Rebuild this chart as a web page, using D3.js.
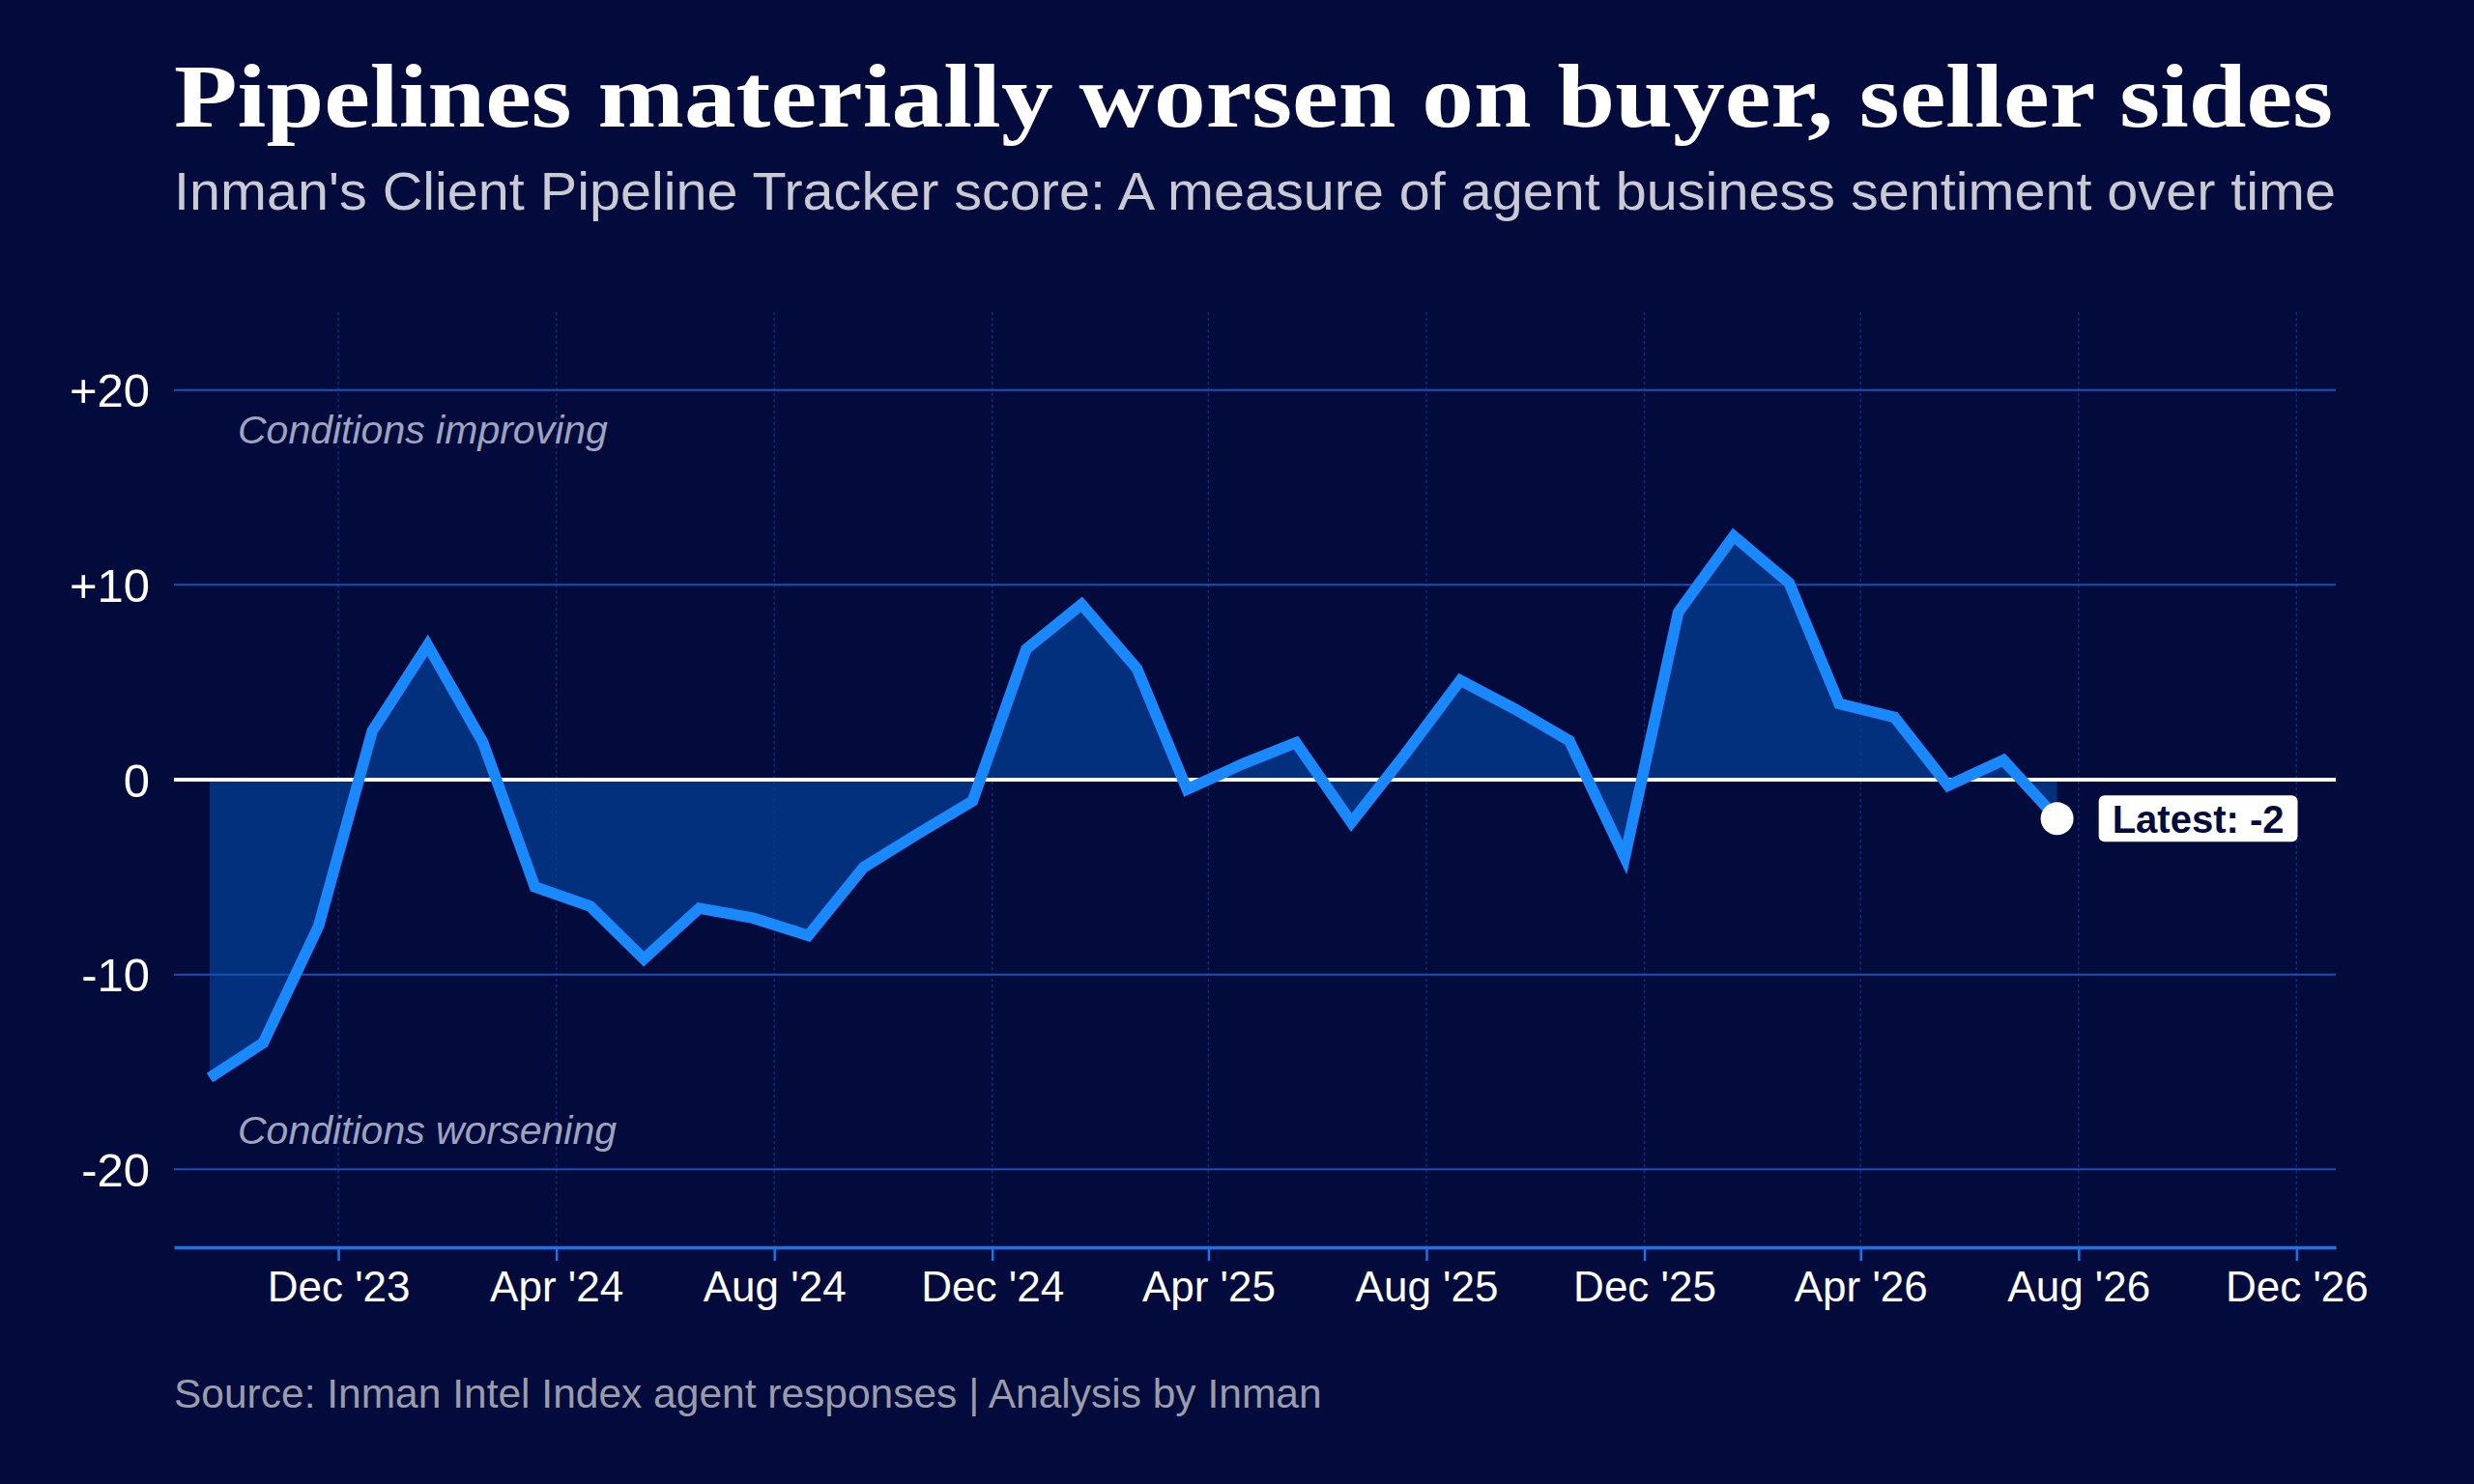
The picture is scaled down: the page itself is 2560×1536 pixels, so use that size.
<!DOCTYPE html>
<html>
<head>
<meta charset="utf-8">
<script src="https://cdn.jsdelivr.net/npm/d3@7"></script>
<style>
  html, body { margin: 0; padding: 0; background: #020b3c; }
  svg { display: block; }
</style>
</head>
<body>
<svg id="chart" width="2560" height="1536"></svg>
<script>
// ---- DATA ----
const dates = [
  "2023-09-20","2023-10-20","2023-11-20","2023-12-20",
  "2024-01-20","2024-02-20","2024-03-20","2024-04-20","2024-05-20","2024-06-20",
  "2024-07-20","2024-08-20","2024-09-20","2024-10-20","2024-11-20","2024-12-20",
  "2025-01-20","2025-02-20","2025-03-20","2025-04-20","2025-05-20","2025-06-20",
  "2025-07-20","2025-08-20","2025-09-20","2025-10-20","2025-11-20","2025-12-20",
  "2026-01-20","2026-02-20","2026-03-20","2026-04-20","2026-05-20","2026-06-20",
  "2026-07-20"
];
const scores = [
  -15.3, -13.5, -7.5, 2.5,
  6.9, 1.9, -5.5, -6.5, -9.2, -6.6,
  -7.1, -8.0, -4.5, -2.8, -1.1, 6.7,
  9.0, 5.7, -0.5, 0.8, 1.9, -2.2,
  1.3, 5.1, 3.6, 2.0, -4.0, 8.6,
  12.5, 10.1, 3.9, 3.2, -0.3, 1.0,
  -2.0
];
const yTicks = [-20, -10, 0, 10, 20];
const xTickDates = ["2023-12-01","2024-04-01","2024-08-01","2024-12-01","2025-04-01",
  "2025-08-01","2025-12-01","2026-04-01","2026-08-01","2026-12-01"];
const titleText = "Pipelines materially worsen on buyer, seller sides";
const subtitleText = "Inman's Client Pipeline Tracker score: A measure of agent business sentiment over time";
const sourceText = "Source: Inman Intel Index agent responses | Analysis by Inman";
const noteTop = "Conditions improving";
const noteBottom = "Conditions worsening";
const latestLabel = "Latest: -2";

// ---- SETUP ----
const parse = d3.utcParse("%Y-%m-%d");
const data = dates.map((d, i) => ({ date: parse(d), value: scores[i] }));

const svg = d3.select("#chart");
const W = 2560, H = 1536;
const pL = 180, pR = 2417, pT = 323, pB = 1291;

svg.append("rect").attr("width", W).attr("height", H).attr("fill", "#020b3c");

const x = d3.scaleUtc()
  .domain([parse("2023-08-31"), parse("2026-12-23")])
  .range([pL, pR]);
const y = d3.scaleLinear().domain([-24, 24]).range([pB, pT]);

const sans = "'Liberation Sans', Arial, Helvetica, sans-serif";

// ---- TITLE ----
svg.append("text")
  .attr("x", pL).attr("y", 131)
  .attr("font-family", "'Liberation Serif', 'DejaVu Serif', Georgia, serif")
  .attr("font-weight", "bold")
  .attr("font-size", 93)
  .attr("fill", "#ffffff")
  .attr("textLength", 2234).attr("lengthAdjust", "spacingAndGlyphs")
  .text(titleText);

svg.append("text")
  .attr("x", pL).attr("y", 217)
  .attr("font-family", sans)
  .attr("font-size", 55)
  .attr("fill", "#c9cad3")
  .attr("textLength", 2237).attr("lengthAdjust", "spacingAndGlyphs")
  .text(subtitleText);

// ---- AREA ----
const area = d3.area()
  .x(d => x(d.date))
  .y0(y(0))
  .y1(d => y(d.value));
svg.append("path").datum(data)
  .attr("d", area)
  .attr("fill", "#03307c");

// ---- GRID ----
const grid = svg.append("g");
grid.selectAll("line.v").data(xTickDates.map(parse)).join("line")
  .attr("class", "v")
  .attr("x1", d => x(d)).attr("x2", d => x(d))
  .attr("y1", pT).attr("y2", pB)
  .attr("stroke", "#123a8c")
  .attr("stroke-width", 1.5)
  .attr("stroke-dasharray", "3,3")
  .attr("opacity", 0.7);

grid.selectAll("line.h").data(yTicks.filter(t => t !== 0)).join("line")
  .attr("class", "h")
  .attr("x1", pL).attr("x2", pR)
  .attr("y1", d => y(d)).attr("y2", d => y(d))
  .attr("stroke", "#1a4fb4")
  .attr("stroke-width", 2);

// zero line
svg.append("line")
  .attr("x1", pL).attr("x2", pR)
  .attr("y1", y(0)).attr("y2", y(0))
  .attr("stroke", "#ffffff")
  .attr("stroke-width", 4);

// ---- Y AXIS LABELS ----
const yAxis = d3.axisLeft(y).tickValues(yTicks)
  .tickSize(0).tickPadding(0)
  .tickFormat(d => d > 0 ? "+" + d : (d === 0 ? "0" : String(d)));
const yg = svg.append("g").attr("transform", `translate(${pL - 25},0)`).call(yAxis);
yg.select(".domain").remove();
yg.selectAll("text")
  .attr("font-family", sans)
  .attr("font-size", 49)
  .attr("fill", "#ffffff")
  .attr("dy", "0.35em");

// ---- X AXIS ----
const xAxis = d3.axisBottom(x)
  .tickValues(xTickDates.map(parse))
  .tickSize(14).tickSizeOuter(0).tickPadding(11)
  .tickFormat(d3.utcFormat("%b '%y"));
const xg = svg.append("g").attr("transform", `translate(0,${pB})`).call(xAxis);
xg.select(".domain").attr("stroke", "#1f72e6").attr("stroke-width", 3.5);
xg.selectAll(".tick line").attr("stroke", "#1f72e6").attr("stroke-width", 2.5);
xg.selectAll(".tick text")
  .attr("font-family", sans)
  .attr("font-size", 44)
  .attr("fill", "#ffffff");

// ---- LINE ----
const line = d3.line().x(d => x(d.date)).y(d => y(d.value));
svg.append("path").datum(data)
  .attr("d", line)
  .attr("fill", "none")
  .attr("stroke", "#1a88ff")
  .attr("stroke-width", 11.5)
  .attr("stroke-linejoin", "miter")
  .attr("stroke-linecap", "butt");

// ---- ANNOTATIONS ----
svg.append("text")
  .attr("x", 246).attr("y", 459)
  .attr("font-family", sans).attr("font-style", "italic")
  .attr("font-size", 41).attr("fill", "#9ea3bf")
  .text(noteTop);
svg.append("text")
  .attr("x", 246).attr("y", 1184)
  .attr("font-family", sans).attr("font-style", "italic")
  .attr("font-size", 41).attr("fill", "#9ea3bf")
  .text(noteBottom);

// latest point + label
const last = data[data.length - 1];
svg.append("circle")
  .attr("cx", x(last.date)).attr("cy", y(last.value))
  .attr("r", 17).attr("fill", "#ffffff");

const lbl = svg.append("g");
const lblText = lbl.append("text")
  .attr("x", x(last.date) + 146).attr("y", y(last.value))
  .attr("dy", "0.36em")
  .attr("text-anchor", "middle")
  .attr("font-family", sans).attr("font-weight", "bold")
  .attr("font-size", 40).attr("fill", "#020b3c")
  .text(latestLabel);
const bb = lblText.node().getBBox();
lbl.insert("rect", "text")
  .attr("x", bb.x - 14).attr("y", y(last.value) - 24)
  .attr("width", bb.width + 28).attr("height", 48)
  .attr("rx", 6).attr("fill", "#ffffff");

// ---- SOURCE ----
svg.append("text")
  .attr("x", pL).attr("y", 1457)
  .attr("font-family", sans)
  .attr("font-size", 42.5)
  .attr("fill", "#9a9cab")
  .text(sourceText);
</script>
</body>
</html>
